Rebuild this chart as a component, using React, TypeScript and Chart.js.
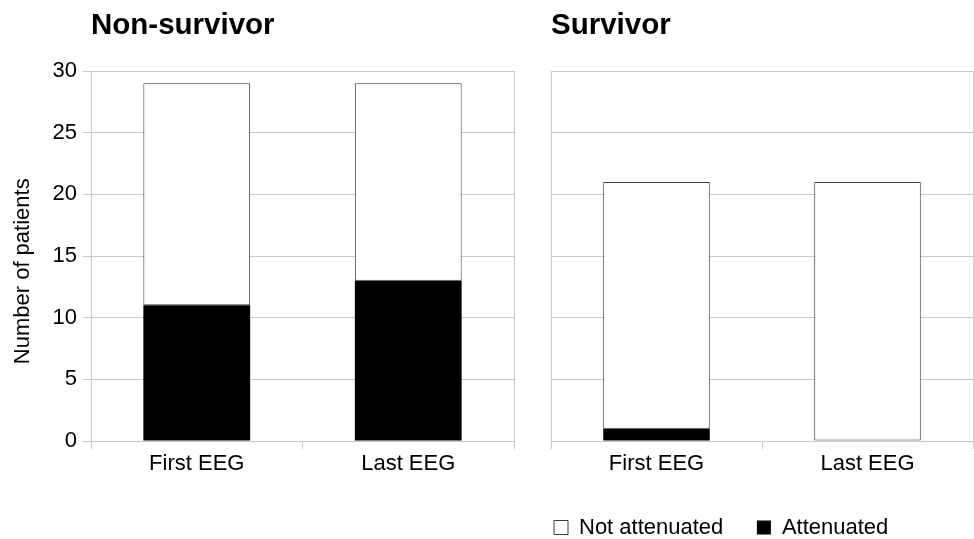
import React, { useEffect, useRef } from 'react';
import Chart from 'chart.js/auto';

// ---- data ----
const categories = ['First EEG', 'Last EEG'];
const panelTitles = ['Non-survivor', 'Survivor'];
const seriesLabels = ['Attenuated', 'Not attenuated'];
const nonSurvivorAttenuated = [11, 13];
const nonSurvivorNotAttenuated = [18, 16];
const survivorAttenuated = [1, 0];
const survivorNotAttenuated = [20, 21];
const yMin = 0;
const yMax = 30;
const yStep = 5;
const yAxisTitle = 'Number of patients';

const FONT = '"Liberation Sans", Arial, Helvetica, sans-serif';
const GRID = '#c8c8c8';
const BAR_EDGE = '#3c3c3c';

function buildConfig(
  title: string,
  attenuated: number[],
  notAttenuated: number[],
  isLeft: boolean
): any {
  return {
    type: 'bar',
    data: {
      labels: categories,
      datasets: [
        {
          label: seriesLabels[0],
          data: attenuated,
          backgroundColor: '#000000',
          borderColor: '#000000',
          borderWidth: 0,
          barPercentage: 0.505,
          categoryPercentage: 1,
        },
        {
          label: seriesLabels[1],
          data: notAttenuated,
          backgroundColor: '#ffffff',
          borderColor: BAR_EDGE,
          borderWidth: 1,
          borderSkipped: false,
          barPercentage: 0.505,
          categoryPercentage: 1,
        },
      ],
    },
    options: {
      responsive: false,
      animation: false,
      events: [],
      layout: { padding: { left: 0, right: isLeft ? 6 : 1, top: 0, bottom: 0 } },
      scales: {
        x: {
          stacked: true,
          offset: true,
          ticks: { font: { size: 22, family: FONT }, color: '#000', padding: 2 },
          grid: {
            offset: true,
            color: (c: any) => (c.type === 'scale' || c.index === 0 ? GRID : 'rgba(0,0,0,0)'),
            tickColor: GRID,
            tickLength: 8,
            lineWidth: 1,
          },
          border: { display: true, color: GRID },
          afterFit: (s: any) => {
            s.height = isLeft ? 98 : 72.5;
          },
        },
        y: {
          stacked: true,
          min: yMin,
          max: yMax,
          ticks: {
            display: isLeft,
            stepSize: yStep,
            padding: 6,
            font: { size: 22, family: FONT },
            color: '#000',
          },
          grid: { color: GRID, tickColor: GRID, tickLength: 8, drawTicks: isLeft, lineWidth: 1 },
          border: { display: isLeft, color: GRID },
          title: {
            display: isLeft,
            // trailing spaces nudge the visible title toward the lower part of the axis, as in the source
            text: yAxisTitle + '     ',
            font: { size: 22, family: FONT },
            color: '#000',
            padding: { top: 10, bottom: 0 },
          },
          afterFit: (s: any) => {
            s.width = isLeft ? 91 : 31;
          },
        },
      },
      plugins: {
        tooltip: { enabled: false },
        title: {
          display: true,
          text: title,
          align: 'start',
          fullSize: false,
          color: '#000',
          font: { size: 29.5, weight: 'bold', family: FONT, lineHeight: 1.2 },
          padding: { top: 8.5, bottom: 27.1 },
        },
        legend: {
          display: !isLeft,
          position: 'bottom',
          align: 'start',
          fullSize: false,
          reverse: true,
          maxHeight: 25.5,
          labels: {
            boxWidth: 14,
            boxHeight: 14,
            padding: 3,
            color: '#000',
            font: { size: 22, family: FONT },
            generateLabels: (chart: any) => {
              const items = (Chart as any).defaults.plugins.legend.labels.generateLabels(chart);
              return items.map((it: any) =>
                it.text === seriesLabels[1]
                  ? { ...it, text: it.text + '     ', lineWidth: 1, strokeStyle: BAR_EDGE, fillStyle: '#ffffff' }
                  : { ...it, lineWidth: 0, fillStyle: '#000000' }
              );
            },
          },
        },
      },
    },
  };
}

export default function App() {
  const leftRef = useRef<HTMLCanvasElement>(null);
  const rightRef = useRef<HTMLCanvasElement>(null);

  useEffect(() => {
    Chart.defaults.font.family = FONT;
    Chart.defaults.color = '#000';
    const a = new Chart(
      leftRef.current as HTMLCanvasElement,
      buildConfig(panelTitles[0], nonSurvivorAttenuated, nonSurvivorNotAttenuated, true)
    );
    const b = new Chart(
      rightRef.current as HTMLCanvasElement,
      buildConfig(panelTitles[1], survivorAttenuated, survivorNotAttenuated, false)
    );
    return () => {
      a.destroy();
      b.destroy();
    };
  }, []);

  return (
    <div style={{ position: 'fixed', left: 0, top: 0, width: 974, height: 539, background: '#fff' }}>
      <canvas ref={leftRef} width={520} height={539} style={{ position: 'absolute', left: 0, top: 0 }} />
      <canvas ref={rightRef} width={454} height={539} style={{ position: 'absolute', left: 520, top: 0 }} />
    </div>
  );
}
